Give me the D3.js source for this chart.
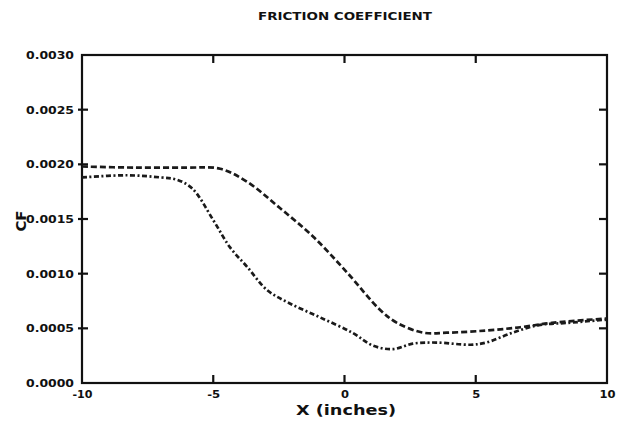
<!DOCTYPE html>
<html>
<head>
<meta charset="utf-8">
<script src="https://cdn.jsdelivr.net/npm/d3@7"></script>
<style>
  html, body { margin: 0; padding: 0; background: #fff; }
  svg { display: block; }
  text { font-family: "DejaVu Sans", "Liberation Sans", Arial, sans-serif; font-weight: bold; fill: #111; }
</style>
</head>
<body>
<svg id="chart" width="622" height="423"></svg>
<script>
// Skin-friction coefficient along the surface, two runs
const xUpper = [-10, -8, -6, -4.74, -3.71, -2.46, -1.2, 0.1, 1.35, 2.0, 3.0, 3.9, 5.4, 6.7, 7.9, 10];
const cfUpper = [0.00198, 0.00197, 0.00197, 0.00196, 0.00184, 0.0016, 0.00134, 0.00101, 0.00067, 0.00055, 0.00046, 0.00046, 0.00048, 0.00051, 0.00055, 0.00059];

const xLower = [-10, -8.3, -7.0, -6.4, -5.8, -5.0, -4.36, -3.7, -2.95, -2.1, -0.93, 0.3, 1.1, 1.85, 2.6, 3.5, 4.8, 5.4, 6.4, 7.4, 8.5, 10];
const cfLower = [0.00188, 0.0019, 0.00188, 0.00186, 0.00178, 0.00149, 0.00124, 0.00106, 0.00085, 0.00073, 0.0006, 0.00046, 0.00034, 0.00031, 0.00036, 0.00037, 0.00035, 0.00037, 0.00046, 0.00053, 0.00055, 0.00058];

const xTicks = [-10, -5, 0, 5, 10];
const xTickLabels = ["-10", "-5", "0", "5", "10"];
const yTicks = [0, 0.0005, 0.001, 0.0015, 0.002, 0.0025, 0.003];
const yTickLabels = ["0.0000", "0.0005", "0.0010", "0.0015", "0.0020", "0.0025", "0.0030"];

const svg = d3.select("#chart");
const plot = { left: 82, right: 607, top: 55, bottom: 383 };
const ink = "#111";

const x = d3.scaleLinear().domain([-10, 10]).range([plot.left, plot.right]);
const y = d3.scaleLinear().domain([0, 0.003]).range([plot.bottom, plot.top]);

// Frame
svg.append("rect")
  .attr("x", plot.left).attr("y", plot.top)
  .attr("width", plot.right - plot.left).attr("height", plot.bottom - plot.top)
  .attr("fill", "none").attr("stroke", ink).attr("stroke-width", 2.2);

// Axis labels from d3 axes; tick marks drawn separately below
const gBottom = svg.append("g").attr("transform", `translate(0,${plot.bottom})`)
  .call(d3.axisBottom(x).tickValues(xTicks).tickSize(0).tickPadding(8)
    .tickFormat((d, i) => xTickLabels[i]));
const gLeft = svg.append("g").attr("transform", `translate(${plot.left},0)`)
  .call(d3.axisLeft(y).tickValues(yTicks).tickSize(0).tickPadding(8)
    .tickFormat((d, i) => yTickLabels[i]));

[gBottom, gLeft].forEach(g => {
  g.select(".domain").remove();
  g.selectAll(".tick line").remove();
  g.selectAll(".tick text").attr("fill", ink).attr("font-weight", "bold")
    .attr("font-family", "'DejaVu Sans', 'Liberation Sans', Arial, sans-serif");
});
gLeft.selectAll(".tick text").attr("font-size", 10.5)
  .attr("textLength", 48).attr("lengthAdjust", "spacingAndGlyphs");
const xLabelWidths = [20, 13, 8, 8, 16];
gBottom.selectAll(".tick text").attr("font-size", 10.5)
  .attr("textLength", (d, i) => xLabelWidths[i]).attr("lengthAdjust", "spacingAndGlyphs");

// Tick marks: inward on top, bottom and right, crossing the left edge
const ticks = svg.append("g").attr("stroke", ink).attr("stroke-width", 2.2);
const innerX = xTicks.slice(1, -1);
const innerY = yTicks.slice(1, -1);
ticks.selectAll(".tb").data(innerX).join("line")
  .attr("x1", d => x(d)).attr("x2", d => x(d))
  .attr("y1", plot.bottom).attr("y2", plot.bottom - 8);
ticks.selectAll(".tt").data(innerX).join("line")
  .attr("x1", d => x(d)).attr("x2", d => x(d))
  .attr("y1", plot.top).attr("y2", plot.top + 8);
ticks.selectAll(".tl").data(innerY).join("line")
  .attr("x1", plot.left - 4).attr("x2", plot.left + 6)
  .attr("y1", d => y(d)).attr("y2", d => y(d));
ticks.selectAll(".tr").data(innerY).join("line")
  .attr("x1", plot.right).attr("x2", plot.right - 8)
  .attr("y1", d => y(d)).attr("y2", d => y(d));

// Curves
const line = d3.line().curve(d3.curveCatmullRom.alpha(0.5));

svg.append("path")
  .datum(xUpper.map((v, i) => [x(v), y(cfUpper[i])]))
  .attr("d", line)
  .attr("fill", "none").attr("stroke", "#1a1a1a").attr("stroke-width", 2.7)
  .attr("stroke-dasharray", "6,3");

svg.append("path")
  .datum(xLower.map((v, i) => [x(v), y(cfLower[i])]))
  .attr("d", line)
  .attr("fill", "none").attr("stroke", "#1a1a1a").attr("stroke-width", 2.7)
  .attr("stroke-dasharray", "5,2.5,2,2.5");

// Titles
svg.append("text")
  .attr("x", 345).attr("y", 20)
  .attr("text-anchor", "middle").attr("font-size", 10)
  .attr("textLength", 174).attr("lengthAdjust", "spacingAndGlyphs")
  .text("FRICTION COEFFICIENT");

svg.append("text")
  .attr("x", 346).attr("y", 415)
  .attr("text-anchor", "middle").attr("font-size", 13.5)
  .attr("textLength", 100).attr("lengthAdjust", "spacingAndGlyphs")
  .text("X (inches)");

svg.append("text")
  .attr("transform", `translate(26,${221}) rotate(-90)`)
  .attr("text-anchor", "middle").attr("font-size", 14)
  .attr("textLength", 21).attr("lengthAdjust", "spacingAndGlyphs")
  .text("CF");
</script>
</body>
</html>
